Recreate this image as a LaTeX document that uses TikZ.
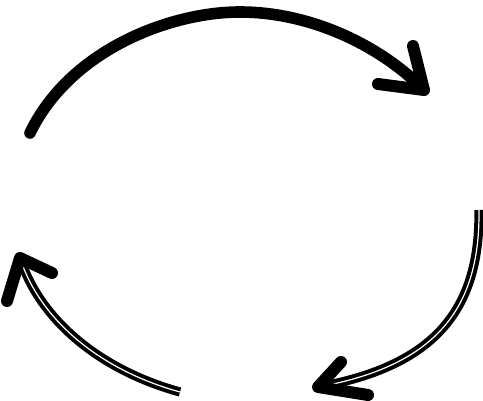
\documentclass[tikz,border=0pt]{standalone}
\usetikzlibrary{arrows.meta}

\begin{document}
\begin{tikzpicture}[
    x=0.5pt, y=-0.5pt,
    stroke/.style={line width=5.8pt, line cap=round, line join=round, draw=black},
    hollow/.style={line width=2pt, draw=black, double=white, double distance=0.6pt, line cap=butt},
    head/.style={line width=6pt, line cap=round, line join=round, draw=black}
]
    \useasboundingbox (0,0) rectangle (483,401);

    % top arc
    \coordinate (topstart) at (30,133);
    \coordinate (toptip) at (424,90);
    \draw[stroke] (topstart) .. controls (70,50) and (170,12) .. (240,12)
        .. controls (310,12) and (380,45) .. (toptip);
    \draw[head] (413,46) -- (toptip) -- (378,84);

    % right arc
    \coordinate (rightstart) at (479,210);
    \coordinate (righttip) at (318,387);
    \draw[hollow] (rightstart) .. controls (480,305) and (440,365) .. (righttip);
    \draw[head] (341,362) -- (righttip) -- (368,395);

    % bottom-left arc
    \coordinate (leftstart) at (180,392);
    \coordinate (lefttip) at (20,258);
    \draw[hollow] (leftstart) .. controls (100,370) and (40,320) .. (lefttip);
    \draw[head] (7,301) -- (lefttip) -- (52,273);
\end{tikzpicture}
\end{document}
